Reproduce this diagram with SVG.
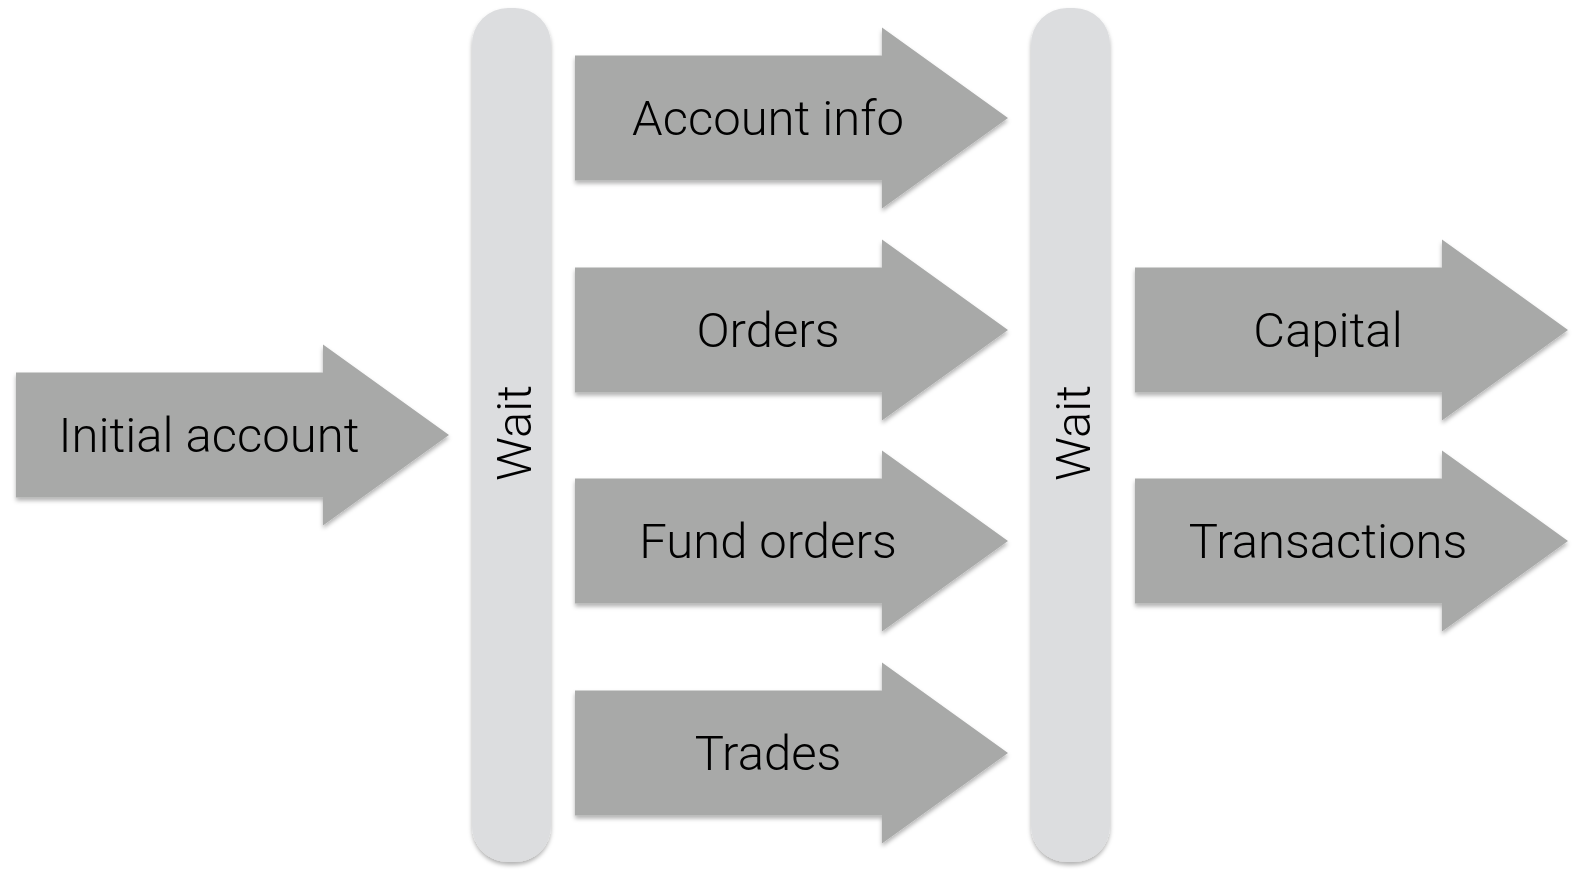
<svg xmlns="http://www.w3.org/2000/svg" width="1580" height="878" viewBox="0 0 1580 878">
<style>
.arrow{fill:#a8a9a8;filter:url(#sh);}
.bar{fill:#dcdddf;filter:url(#sh);}
text{font-family:Roboto,"Liberation Sans",Arial,sans-serif;font-weight:300;font-size:49px;fill:#000;text-anchor:middle;}
</style>
<defs>
<filter id="sh" x="-10%" y="-10%" width="120%" height="120%">
<feDropShadow dx="0" dy="3" stdDeviation="2" flood-color="#000" flood-opacity="0.3"/>
</filter>
<path id="arr" d="M0,-62.5 H307 V-90.5 L433,0 L307,90.5 V62.5 H0 Z"/>
</defs>
<rect width="1580" height="878" fill="#fff"/>
<g id="connectors"></g>
<g id="wait1"><rect class="bar" x="472" y="8" width="79" height="854" rx="36"/><text transform="translate(531,433) rotate(-90)">Wait</text></g>
<g id="wait2"><rect class="bar" x="1031" y="8" width="79" height="854" rx="36"/><text transform="translate(1090,433) rotate(-90)">Wait</text></g>
<g id="initial"><use href="#arr" class="arrow" x="16" y="435"/><text x="209" y="452">Initial account</text></g>
<g id="accountinfo"><use href="#arr" class="arrow" x="575" y="118"/><text x="768" y="135">Account info</text></g>
<g id="orders"><use href="#arr" class="arrow" x="575" y="330"/><text x="768" y="347">Orders</text></g>
<g id="fundorders"><use href="#arr" class="arrow" x="575" y="541"/><text x="768" y="558">Fund orders</text></g>
<g id="trades"><use href="#arr" class="arrow" x="575" y="753"/><text x="768" y="770">Trades</text></g>
<g id="capital"><use href="#arr" class="arrow" x="1135" y="330"/><text x="1328" y="347">Capital</text></g>
<g id="transactions"><use href="#arr" class="arrow" x="1135" y="541"/><text x="1328" y="558">Transactions</text></g>
</svg>
